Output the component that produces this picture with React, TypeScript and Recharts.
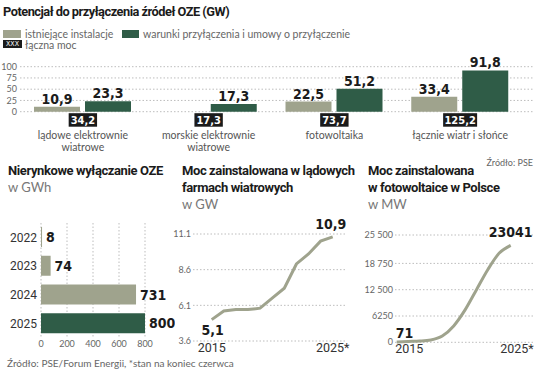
import { BarChart, Bar, XAxis, YAxis, CartesianGrid, LabelList, LineChart, Line, Cell } from 'recharts'

// top chart: connection potential (GW)
const potentialCategories = ['lądowe elektrownie|wiatrowe', 'morskie elektrownie|wiatrowe', 'fotowoltaika', 'łącznie wiatr i słońce']
const existingInstallations = [10.9, 0.0, 22.5, 33.4]
const connectionConditions = [23.3, 17.3, 51.2, 91.8]
const totalCapacity = [34.2, 17.3, 73.7, 125.2]
const potentialTicks = [0, 25, 50, 75, 100]

// curtailment (GWh)
const curtailmentYears = ['2022', '2023', '2024', '2025']
const curtailmentGWh = [8, 74, 731, 800]
const curtailmentTicks = [0, 200, 400, 600, 800]

// installed capacity
const installYears = [2015, 2016, 2017, 2018, 2019, 2020, 2021, 2022, 2023, 2024, 2025]
const onshoreWindGW = [5.1, 5.7, 5.8, 5.8, 5.9, 6.6, 7.3, 9.0, 9.7, 10.6, 10.9]
const windTicks = [3.6, 6.1, 8.6, 11.1]
const solarMW = [71, 190, 290, 560, 1500, 3900, 7700, 12500, 17300, 21200, 23041]
const solarTicks = [0, 6250, 12500, 18750, 25500]

const LIGHT = '#9fa38d'
const DARK = '#2f5c47'
const INK = '#1b1b1b'
const GRID = '#bdbdbd'
const MUTED = '#666'
const NUM_FONT = "'Liberation Sans Narrow', 'DejaVu Sans Condensed', Roboto, sans-serif"
const BODY_FONT = "Lato, 'Open Sans', sans-serif"
const TITLE_FONT = "Roboto, 'Noto Sans', sans-serif"

const comma = (v: number) => v.toFixed(1).replace('.', ',')
const spaced = (v: number) => (v >= 10000 ? String(v).replace(/(\d{2})(\d{3})$/, '$1 $2') : String(v))

const potentialData = potentialCategories.map((name, i) => ({
  name,
  existing: existingInstallations[i],
  conditions: connectionConditions[i],
  total: totalCapacity[i],
}))
const curtailmentData = curtailmentYears.map((year, i) => ({ year, value: curtailmentGWh[i] }))
const windData = installYears.map((year, i) => ({ year, value: onshoreWindGW[i] }))
const solarData = installYears.map((year, i) => ({ year, value: solarMW[i] }))

const TOP_AXIS_Y = 111.7

function TopTick(props: any) {
  const { x, index, payload } = props
  const total = totalCapacity[index]
  const label = comma(total)
  const w = label.length * 5.6 + 6
  const lines = String(payload.value).split('|')
  return (
    <g>
      <rect x={x - w / 2} y={TOP_AXIS_Y + 1.5} width={w} height={13.5} fill={INK} />
      <text x={x} y={TOP_AXIS_Y + 12} textAnchor="middle" fill="#fff" fontFamily={NUM_FONT} fontWeight={700} fontSize={11}>
        {label}
      </text>
      {lines.map((l, i) => (
        <text key={i} x={x} y={TOP_AXIS_Y + 27.5 + i * 11.5} textAnchor="middle" fill="#555" fontFamily={BODY_FONT} fontSize={10.5}>
          {l}
        </text>
      ))}
    </g>
  )
}

function barTopLabel(props: any) {
  const { x, y, width, value } = props
  return (
    <text x={x + width / 2} y={y - 3} textAnchor="middle" fill={INK} fontFamily={NUM_FONT} fontWeight={700} fontSize={14}>
      {comma(value)}
    </text>
  )
}

function barRightLabel(props: any) {
  const { x, y, width, height, value } = props
  return (
    <text x={x + width + 4} y={y + height / 2 + 5} textAnchor="start" fill={INK} fontFamily={NUM_FONT} fontWeight={700} fontSize={14}>
      {value}
    </text>
  )
}

function windLabel(props: any) {
  const { x, y, index, value } = props
  if (index === 0) return <text x={x + 1} y={y + 15} textAnchor="middle" fill={INK} fontFamily={NUM_FONT} fontWeight={700} fontSize={14}>{comma(value)}</text>
  if (index === onshoreWindGW.length - 1) return <text x={x - 2} y={y - 8} textAnchor="middle" fill={INK} fontFamily={NUM_FONT} fontWeight={700} fontSize={14}>{comma(value)}</text>
  return null
}

function solarLabel(props: any) {
  const { x, y, index, value } = props
  if (index === 0) return <text x={x - 1} y={y - 4} textAnchor="start" fill={INK} fontFamily={NUM_FONT} fontWeight={700} fontSize={14}>{value}</text>
  if (index === solarMW.length - 1) return <text x={x} y={y - 8} textAnchor="middle" fill={INK} fontFamily={NUM_FONT} fontWeight={700} fontSize={14}>{value}</text>
  return null
}

function YearTick(props: any) {
  const { x, y, payload, anchor, endShift } = props
  const v = payload.value
  const last = v === 2025
  return (
    <text x={last && endShift ? x + endShift : x - (anchor === 'start' ? 1.5 : 0)} y={y + 11} textAnchor={last && endShift ? 'end' : anchor} fill="#333" fontFamily={TITLE_FONT} fontSize={12.5}>
      {last ? '2025*' : v}
    </text>
  )
}

const smallTick = { fontSize: 9, fill: MUTED, fontFamily: BODY_FONT }

const abs = (left: number, top: number, extra: any = {}) => ({ position: 'absolute' as const, left, top, margin: 0, whiteSpace: 'nowrap' as const, ...extra })
const titleStyle = { fontFamily: TITLE_FONT, fontWeight: 700, fontSize: 13, color: INK, lineHeight: '17px', letterSpacing: '-0.4px' }
const unitStyle = { fontFamily: BODY_FONT, fontSize: 13, color: '#777', lineHeight: '16px' }
const legendText = { fontFamily: BODY_FONT, fontSize: 10.5, color: MUTED, lineHeight: '9px' }

export default function App() {
  return (
    <div style={{ position: 'absolute', left: 0, top: 0, width: 536, height: 377, background: '#fff', overflow: 'hidden' }}>
      <div style={abs(0, 0)}>
        <BarChart width={536} height={160} data={potentialData} margin={{ top: 66.7, right: 3, left: 0, bottom: 0 }} barGap={5} barSize={46}>
          <CartesianGrid vertical={false} stroke={GRID} strokeDasharray="1.5 2" />
          <XAxis dataKey="name" height={48.3} axisLine={false} tickLine={false} tickSize={0} tickMargin={0} interval={0} padding={{ left: 0, right: 10 }} tick={(p: any) => <TopTick {...p} />} />
          <YAxis width={20} domain={[0, 100]} ticks={potentialTicks} interval={0} axisLine={false} tickLine={false} tickSize={0} tickMargin={3} tick={smallTick} />
          <Bar dataKey="existing" fill={LIGHT} isAnimationActive={false}>
            <LabelList dataKey="existing" content={barTopLabel} />
          </Bar>
          <Bar dataKey="conditions" fill={DARK} isAnimationActive={false}>
            <LabelList dataKey="conditions" content={barTopLabel} />
          </Bar>
        </BarChart>
      </div>

      <div style={abs(3, 3, { ...titleStyle, fontSize: 12.8, letterSpacing: '-0.5px' })}>Potencjał do przyłączenia źródeł OZE (GW)</div>
      <div style={abs(3, 30, { width: 18, height: 8, background: LIGHT })} />
      <div style={abs(25, 29.5, legendText)}>istniejące instalacje</div>
      <div style={abs(122, 30, { width: 17, height: 8, background: DARK })} />
      <div style={abs(143, 29.5, legendText)}>warunki przyłączenia i umowy o przyłączenie</div>
      <div style={abs(3, 39.5, { width: 19, height: 8, background: INK, color: '#fff', fontFamily: NUM_FONT, fontSize: 7, lineHeight: '8px', textAlign: 'center' })}>XXX</div>
      <div style={abs(25, 40.5, legendText)}>łączna moc</div>
      <div style={abs(0, 157, { width: 533, textAlign: 'right', fontFamily: BODY_FONT, fontSize: 9, color: MUTED })}>Źródło: PSE</div>

      <div style={abs(8, 162, titleStyle)}>Nierynkowe wyłączanie OZE</div>
      <div style={abs(8, 179, unitStyle)}>w GWh</div>
      <div style={abs(0, 215)}>
        <BarChart width={175} height={138} layout="vertical" data={curtailmentData} margin={{ top: 8, right: 30, left: 0, bottom: 0 }} barSize={20}>
          <CartesianGrid horizontal={false} stroke={GRID} strokeDasharray="1.5 2" />
          <XAxis type="number" domain={[0, 800]} ticks={curtailmentTicks} interval={0} height={15} axisLine={false} tickLine={false} tickSize={0} tickMargin={3} tick={smallTick} />
          <YAxis type="category" dataKey="year" width={41} axisLine={false} tickLine={false} tickSize={0} tickMargin={4} tick={{ fontSize: 12, fill: '#333', fontFamily: TITLE_FONT }} />
          <Bar dataKey="value" isAnimationActive={false}>
            {curtailmentData.map((_, i) => (
              <Cell key={i} fill={i === curtailmentData.length - 1 ? DARK : LIGHT} />
            ))}
            <LabelList dataKey="value" content={barRightLabel} />
          </Bar>
        </BarChart>
      </div>

      <div style={abs(182, 162, titleStyle)}>Moc zainstalowana w lądowych<br />farmach wiatrowych</div>
      <div style={abs(182, 196, unitStyle)}>w GW</div>
      <div style={abs(170, 215)}>
        <LineChart width={180} height={145} data={windData} margin={{ top: 19, right: 3, left: 0, bottom: 0 }}>
          <CartesianGrid vertical={false} stroke={GRID} strokeDasharray="1.5 2" />
          <XAxis type="number" dataKey="year" domain={[2015, 2025]} ticks={[2015, 2025]} height={19} padding={{ left: 18.7, right: 14.3 }} axisLine={false} tickLine={false} tickSize={0} tickMargin={0} tick={(p: any) => <YearTick {...p} anchor="middle" />} />
          <YAxis domain={[3.6, 11.1]} ticks={windTicks} interval={0} width={23} axisLine={false} tickLine={false} tickSize={0} tickMargin={2} tick={smallTick} />
          <Line type="linear" dataKey="value" stroke={LIGHT} strokeWidth={3} dot={false} isAnimationActive={false}>
            <LabelList dataKey="value" content={windLabel} />
          </Line>
        </LineChart>
      </div>

      <div style={abs(368, 162, titleStyle)}>Moc zainstalowana<br />w fotowoltaice w Polsce</div>
      <div style={abs(368, 196, unitStyle)}>w MW</div>
      <div style={abs(350, 215)}>
        <LineChart width={186} height={145} data={solarData} margin={{ top: 20, right: 3, left: 0, bottom: 0 }}>
          <CartesianGrid vertical={false} stroke={GRID} strokeDasharray="1.5 2" />
          <XAxis type="number" dataKey="year" domain={[2015, 2025]} ticks={[2015, 2025]} height={17.7} padding={{ left: 1.7, right: 22.3 }} axisLine={false} tickLine={false} tickSize={0} tickMargin={0} tick={(p: any) => <YearTick {...p} anchor="start" endShift={23} />} />
          <YAxis domain={[0, 25500]} ticks={solarTicks} interval={0} width={45} axisLine={false} tickLine={false} tickSize={0} tickMargin={2} tick={smallTick} tickFormatter={spaced} />
          <Line type="monotone" dataKey="value" stroke={LIGHT} strokeWidth={3} dot={false} isAnimationActive={false}>
            <LabelList dataKey="value" content={solarLabel} />
          </Line>
        </LineChart>
      </div>

      <div style={abs(7, 357, { fontFamily: BODY_FONT, fontSize: 10, color: MUTED })}>Źródło: PSE/Forum Energii, *stan na koniec czerwca</div>
    </div>
  )
}
